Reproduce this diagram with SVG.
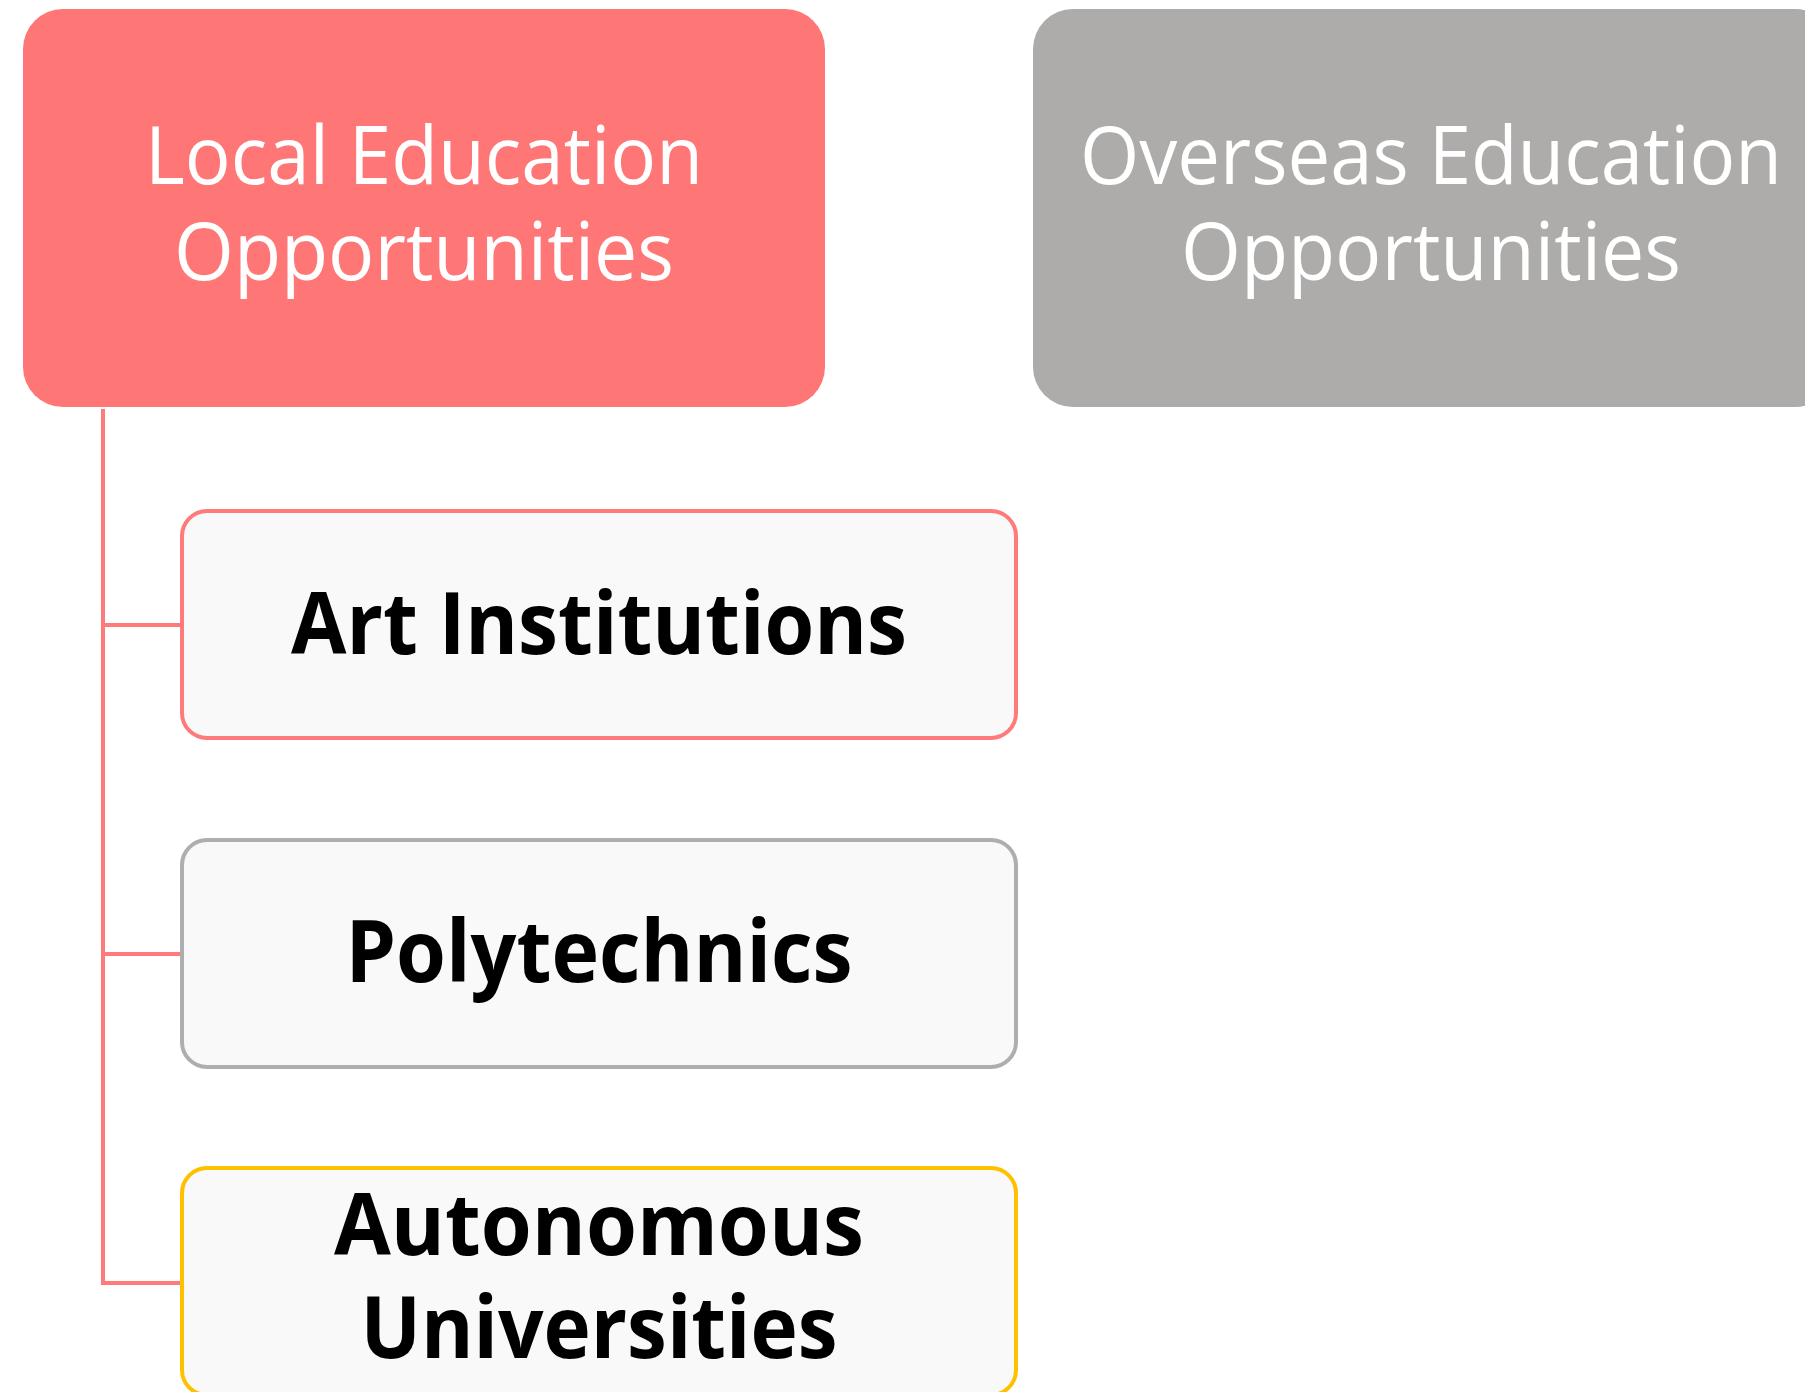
<svg xmlns="http://www.w3.org/2000/svg" width="1805" height="1392" viewBox="0 0 1805 1392">
  <style>
    .head { font-family: "Open Sans", "Liberation Sans", sans-serif; font-size: 80px; fill: #ffffff; text-anchor: middle; }
    .item { font-family: "Open Sans", "Liberation Sans", sans-serif; font-size: 86px; font-weight: bold; fill: #000000; text-anchor: middle; }
    .card { fill: #f9f9f9; stroke-width: 4; }
    .link { fill: none; stroke: #ff7b7b; stroke-width: 4; }
  </style>
  <rect width="1805" height="1392" fill="#ffffff"/>

  <!-- branch lines from the local education header -->
  <g id="connectors">
    <path class="link" d="M103 409 V1283 H182"/>
    <path class="link" d="M103 625 H182"/>
    <path class="link" d="M103 954 H182"/>
  </g>

  <g id="local-education">
    <rect x="23" y="9" width="802" height="398" rx="40" fill="#ff7676"/>
    <text class="head" x="424" y="184" textLength="558" lengthAdjust="spacingAndGlyphs">Local Education</text>
    <text class="head" x="424" y="280" textLength="500" lengthAdjust="spacingAndGlyphs">Opportunities</text>
  </g>

  <g id="overseas-education">
    <rect x="1033" y="9" width="802" height="398" rx="40" fill="#adacaa"/>
    <text class="head" x="1431" y="184" textLength="702" lengthAdjust="spacingAndGlyphs">Overseas Education</text>
    <text class="head" x="1431" y="280" textLength="500" lengthAdjust="spacingAndGlyphs">Opportunities</text>
  </g>

  <g id="art-institutions">
    <rect class="card" x="182" y="511" width="834" height="227" rx="25" stroke="#ff7b7b"/>
    <text class="item" x="599" y="654" textLength="616" lengthAdjust="spacingAndGlyphs">Art Institutions</text>
  </g>

  <g id="polytechnics">
    <rect class="card" x="182" y="840" width="834" height="227" rx="25" stroke="#aeaeae"/>
    <text class="item" x="599" y="982" textLength="507" lengthAdjust="spacingAndGlyphs">Polytechnics</text>
  </g>

  <g id="autonomous-universities">
    <rect class="card" x="182" y="1168" width="834" height="227" rx="25" stroke="#ffc000"/>
    <text class="item" x="599" y="1255" textLength="530" lengthAdjust="spacingAndGlyphs">Autonomous</text>
    <text class="item" x="599" y="1358" textLength="477" lengthAdjust="spacingAndGlyphs">Universities</text>
  </g>
</svg>
